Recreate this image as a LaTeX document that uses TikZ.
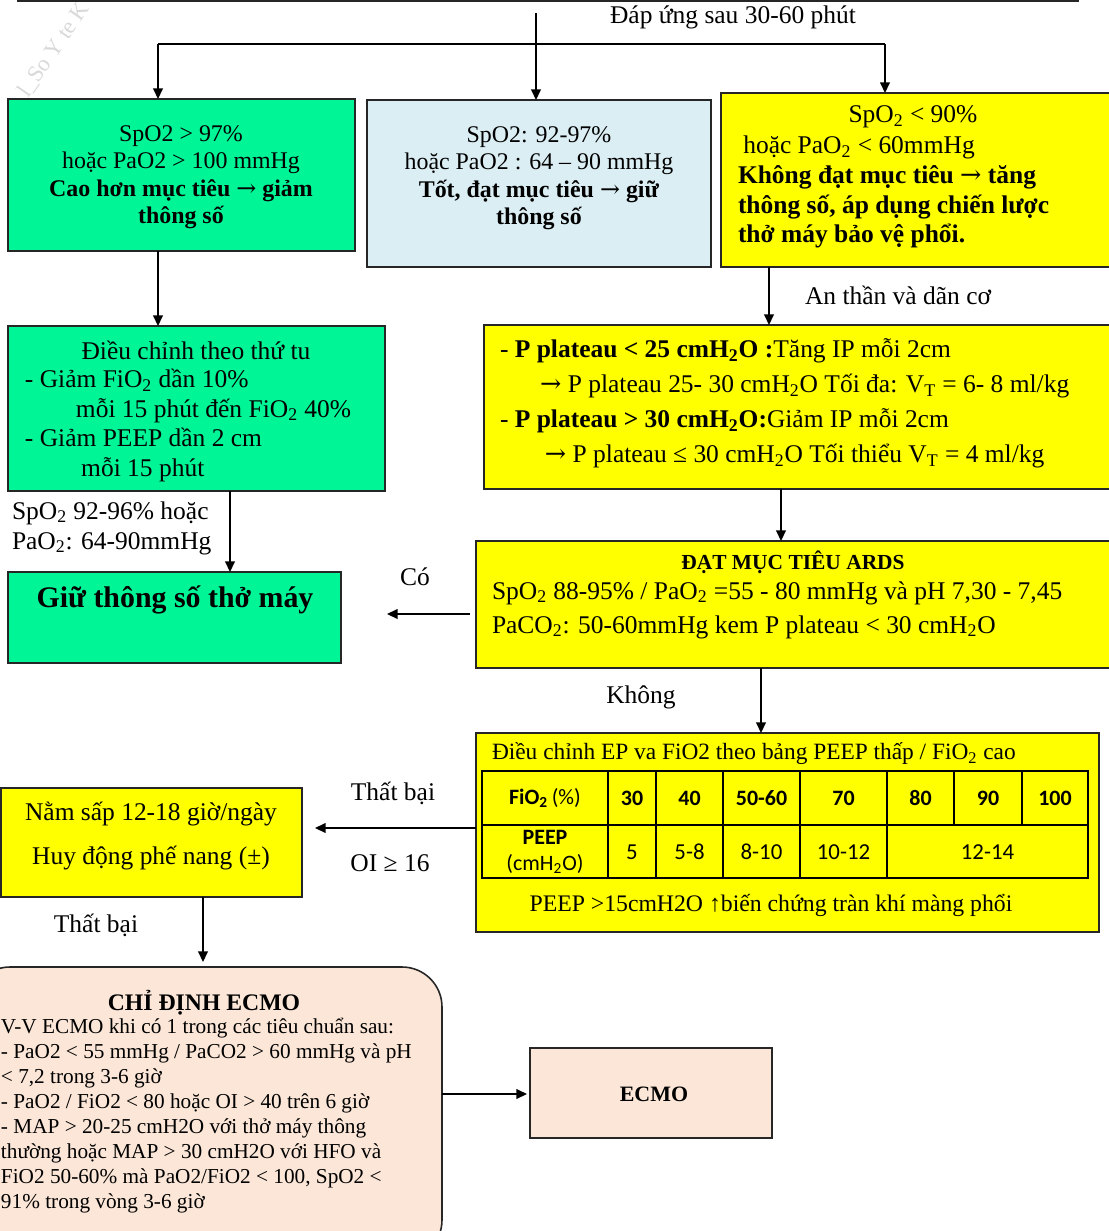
\documentclass[tikz,border=0pt]{standalone}
\usepackage{fontspec}
\setmainfont{Liberation Serif}
\newfontfamily\tabfont{Carlito}
\newfontfamily\arrfont{DejaVu Serif}
\usetikzlibrary{arrows.meta,fit}
\definecolor{mint}{RGB}{0,245,150}
\definecolor{lblue}{RGB}{219,238,244}
\definecolor{yel}{RGB}{255,255,0}
\definecolor{peach}{RGB}{251,230,215}
\newcommand\szA{\fontsize{13.6}{15.6}\selectfont}
\newcommand\szB{\fontsize{14.5}{17}\selectfont}
\newcommand\sbs[1]{\textsubscript{#1}}
\newcommand\rarr{{\arrfont\mdseries →}}
\tikzset{
  boxs/.style={draw=black!85, line width=0.9pt, inner sep=0pt, outer sep=0pt},
  arr/.style={draw=black, line width=0.8pt, -{Triangle[length=6pt,width=5.5pt]}},
  txt/.style={inner sep=0pt, outer sep=0pt, font=\szB},
  tline/.style={draw=black, line width=0.8pt},
  tcell/.style={inner sep=0pt, outer sep=0pt, font=\tabfont\fontsize{12.5}{14}\selectfont, align=center},
}
\begin{document}
\begin{tikzpicture}[x=0.02cm,y=-0.02cm]
\useasboundingbox (0,0) rectangle (1109,1231);
\clip (0,0) rectangle (1109,1231);

% watermark
\node[txt, text=gray!30, rotate=55, font=\fontsize{13}{15}\selectfont] (wm) at (54,50) {l\_So Y te K};

% boxes
\node[boxs, fill=white, fit={(18,-30) (1078,1)}] (top) {};
\node[boxs, fill=mint, fit={(8,99) (355,251)}] (b1) {};
\node[boxs, fill=lblue, fit={(367,100) (711,267)}] (b2) {};
\node[boxs, fill=yel, fit={(721,93) (1115,267)}] (b3) {};
\node[boxs, fill=mint, fit={(8,326) (385,491)}] (b4) {};
\node[boxs, fill=yel, fit={(484,325) (1115,489)}] (b5) {};
\node[boxs, fill=yel, fit={(476,541) (1115,668)}] (b6) {};
\node[boxs, fill=mint, fit={(8,572) (341,663)}] (b7) {};
\node[boxs, fill=yel, fit={(476,733) (1099,932)}] (b8) {};
\node[boxs, fill=yel, fit={(1,788) (302,897)}] (b9) {};
\node[boxs, fill=peach, rounded corners=0.8cm, fit={(-30,967) (442,1260)}] (b10) {};
\node[boxs, fill=peach, fit={(530,1048) (772,1138)}] (b11) {};

% connector guide coordinates
\coordinate (xA) at (158,0);
\coordinate (xB) at (536,0);
\coordinate (xC) at (885,0);
\coordinate (yH) at (0,44);
\coordinate (xD) at (769,0);
\coordinate (xE) at (781,0);
\coordinate (xF) at (230,0);
\coordinate (yG) at (0,614);
\coordinate (xH) at (761,0);
\coordinate (yI) at (0,828);
\coordinate (xJ) at (203,0);
\coordinate (yK) at (0,1094);

% connectors
\draw[line width=0.8pt] (xA |- yH) -- (xC |- yH);
\draw[arr] (xA |- yH) -- (b1.north -| xA);
\draw[arr, shorten <=0.24cm] (top.south -| xB) -- (b2.north -| xB);
\draw[arr] (xC |- yH) -- (b3.north -| xC);
\draw[arr] (b1.south -| xA) -- (b4.north -| xA);
\draw[arr] (b3.south -| xD) -- (b5.north -| xD);
\draw[arr] (b5.south -| xE) -- (b6.north -| xE);
\draw[arr] (b4.south -| xF) -- (b7.north -| xF);
\draw[arr, shorten <=0.12cm, shorten >=0.92cm] (b6.west |- yG) -- (b7.east |- yG);
\draw[arr] (b6.south -| xH) -- (b8.north -| xH);
\draw[arr, shorten >=0.26cm] (b8.west |- yI) -- (b9.east |- yI);
\draw[arr, shorten >=0.1cm] (b9.south -| xJ) -- (b10.north -| xJ);
\draw[arr, shorten >=0.06cm] (b10.east |- yK) -- (b11.west |- yK);

% labels
\node[txt] (t0) at (733,17) {Đáp ứng sau 30-60 phút};
\node[txt, anchor=west] (tAn) at (805,295) {An thần và dãn cơ};
\node[txt, anchor=west, align=left] (tlab) at (12,528) {SpO\sbs{2} 92-96\% hoặc\\PaO\sbs{2}: 64-90mmHg};
\node[txt] (tCo) at (415,577) {Có};
\node[txt] (tKh) at (641,697) {Không};
\node[txt] (tTB1) at (393,793) {Thất bại};
\node[txt] (tOI) at (390,863) {OI ≥ 16};
\node[txt] (tTB2) at (96,925) {Thất bại};

% box texts
\node[txt, font=\szA, align=center] (t1) at (181,177) {SpO2 > 97\%\\hoặc PaO2 > 100 mmHg\\\textbf{Cao hơn mục tiêu \rarr\ giảm}\\\textbf{thông số}};
\node[txt, font=\szA, align=center] (t2) at (539,178) {SpO2: 92-97\%\\hoặc PaO2 : 64 – 90 mmHg\\\textbf{Tốt, đạt mục tiêu \rarr\ giữ}\\\textbf{thông số}};
\node[txt] (t3a) at (913,117) {SpO\sbs{2} < 90\%};
\node[txt, anchor=west, align=left] (t3b) at (738,192) {\hspace*{3pt}hoặc PaO\sbs{2} < 60mmHg\\\textbf{Không đạt mục tiêu \rarr\ tăng}\\\textbf{thông số, áp dụng chiến lược}\\\textbf{thở máy bảo vệ phổi.}};
\node[txt] (t4a) at (196,350) {Điều chỉnh theo thứ tu};
\node[txt, anchor=west, align=left, font=\fontsize{14.5}{16.9}\selectfont] (t4b) at (25,425.5) {- Giảm FiO\sbs{2} dần 10\%\\\hspace*{29pt}mỗi 15 phút đến FiO\sbs{2} 40\%\\- Giảm PEEP dần 2 cm\\\hspace*{32pt}mỗi 15 phút};
\node[txt, anchor=west, align=left, font=\fontsize{14.5}{19.9}\selectfont] (t5) at (500,403.5) {- \textbf{P plateau < 25 cmH\sbs{2}O :}Tăng IP mỗi 2cm\\\hspace*{22.8pt}\rarr\ P plateau 25- 30 cmH\sbs{2}O Tối đa: V\sbs{T} = 6- 8 ml/kg\\- \textbf{P plateau > 30 cmH\sbs{2}O:}Giảm IP mỗi 2cm\\\hspace*{25.6pt}\rarr\ P plateau ≤ 30 cmH\sbs{2}O Tối thiểu V\sbs{T} = 4 ml/kg};
\node[txt, font=\fontsize{12.2}{14}\selectfont\bfseries] (t6a) at (793,562) {ĐẠT MỤC TIÊU ARDS};
\node[txt, anchor=west, align=left, font=\fontsize{14.5}{19.4}\selectfont] (t6b) at (492,610) {SpO\sbs{2} 88-95\% / PaO\sbs{2} =55 - 80 mmHg và pH 7,30 - 7,45\\PaCO\sbs{2}: 50-60mmHg kem P plateau < 30 cmH\sbs{2}O};
\node[txt, font=\fontsize{17}{19}\selectfont\bfseries] (t7) at (175,600) {Giữ thông số thở máy};
\node[txt, anchor=west, font=\fontsize{13.3}{15}\selectfont] (t8a) at (492,754) {Điều chỉnh EP va FiO2 theo bảng PEEP thấp / FiO\sbs{2} cao};

% PEEP table grid
\draw[tline] (482,771) rectangle (1088,878);
\draw[tline] (482,825) -- (1088,825);
\foreach \cx in {608,656,723,800,887} \draw[tline] (\cx,771) -- (\cx,878);
\foreach \cx in {954,1022} \draw[tline] (\cx,771) -- (\cx,825);
\node[tcell] (h0) at (545,798) {\textbf{FiO\sbs{2}}\,(\%)};
\node[tcell] (h1) at (632,798) {\textbf{30}};
\node[tcell] (h2) at (689.5,798) {\textbf{40}};
\node[tcell] (h3) at (761.5,798) {\textbf{50-60}};
\node[tcell] (h4) at (843.5,798) {\textbf{70}};
\node[tcell] (h5) at (920.5,798) {\textbf{80}};
\node[tcell] (h6) at (988,798) {\textbf{90}};
\node[tcell] (h7) at (1055,798) {\textbf{100}};
\node[tcell, font=\tabfont\fontsize{12.5}{15}\selectfont] (r0) at (545,852) {\textbf{PEEP}\\(cmH\sbs{2}O)};
\node[tcell, font=\tabfont\fontsize{13}{15}\selectfont] (r1) at (632,852) {5};
\node[tcell, font=\tabfont\fontsize{13}{15}\selectfont] (r2) at (689.5,852) {5-8};
\node[tcell, font=\tabfont\fontsize{13}{15}\selectfont] (r3) at (761.5,852) {8-10};
\node[tcell, font=\tabfont\fontsize{13}{15}\selectfont] (r4) at (843.5,852) {10-12};
\node[tcell, font=\tabfont\fontsize{13}{15}\selectfont] (r5) at (987.5,852) {12-14};
\node[txt, font=\fontsize{13.5}{15}\selectfont] (t8b) at (771,905) {PEEP >15cmH2O ↑biến chứng tràn khí màng phổi};

\node[txt, align=center, font=\fontsize{14.5}{25}\selectfont] (t9) at (151,836) {Nằm sấp 12-18 giờ/ngày\\Huy động phế nang (±)};

\node[txt, font=\fontsize{13.5}{15}\selectfont\bfseries] (t10a) at (204,1003) {CHỈ ĐỊNH ECMO};
\node[txt, anchor=west, align=left, font=\fontsize{12.1}{14.2}\selectfont] (t10b) at (1,1115.5) {V-V ECMO khi có 1 trong các tiêu chuẩn sau:\\- PaO2 < 55 mmHg / PaCO2 > 60 mmHg và pH\\< 7,2 trong 3-6 giờ\\- PaO2 / FiO2 < 80 hoặc OI > 40 trên 6 giờ\\- MAP > 20-25 cmH2O với thở máy thông\\thường hoặc MAP > 30 cmH2O với HFO và\\FiO2 50-60\% mà PaO2/FiO2 < 100, SpO2 <\\91\% trong vòng 3-6 giờ};
\node[txt, font=\fontsize{12.5}{14}\selectfont\bfseries] (t11) at (654,1094) {ECMO};
\end{tikzpicture}
\end{document}
